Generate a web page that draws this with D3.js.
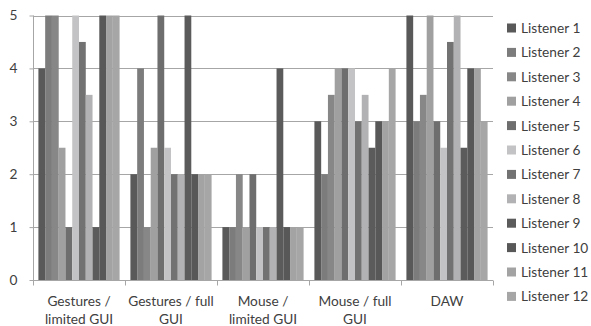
<!DOCTYPE html>
<html>
<head>
<meta charset="utf-8">
<script src="https://cdn.jsdelivr.net/npm/d3@7"></script>
<style>
  html, body { margin: 0; padding: 0; background: #fff; }
  svg { display: block; }
  text { font-family: Lato, "Open Sans", sans-serif; fill: #404040; }
</style>
</head>
<body>
<svg id="chart" width="591" height="326"></svg>
<script>
// Ratings per interface condition, one value per listener
const categories = [
  ["Gestures /", "limited GUI"],
  ["Gestures / full", "GUI"],
  ["Mouse /", "limited GUI"],
  ["Mouse / full", "GUI"],
  ["DAW"]
];
const listeners = ["Listener 1", "Listener 2", "Listener 3", "Listener 4", "Listener 5", "Listener 6",
                   "Listener 7", "Listener 8", "Listener 9", "Listener 10", "Listener 11", "Listener 12"];
const gesturesLimited = [4, 5, 5, 2.5, 1, 5, 4.5, 3.5, 1, 5, 5, 5];
const gesturesFull    = [2, 4, 1, 2.5, 5, 2.5, 2, 2, 5, 2, 2, 2];
const mouseLimited    = [1, 1, 2, 1, 2, 1, 1, 1, 4, 1, 1, 1];
const mouseFull       = [3, 2, 3.5, 4, 4, 4, 3, 3.5, 2.5, 3, 3, 4];
const daw             = [5, 3, 3.5, 5, 3, 2.5, 4.5, 5, 2.5, 4, 4, 3];
const yTicks = [0, 1, 2, 3, 4, 5];
const colors = ["#595959", "#7c7c7c", "#878787", "#a0a0a0", "#6e6e6e", "#c3c3c5",
                "#727272", "#b2b2b4", "#5b5b5b", "#585858", "#a3a3a3", "#a6a6a6"];

const series = [gesturesLimited, gesturesFull, mouseLimited, mouseFull, daw];
const catKeys = categories.map(c => c.join(" "));
const fontSize = 13.7;

const svg = d3.select("#chart");
const plotLeft = 33, plotRight = 493, plotTop = 15.5, plotBottom = 280;

const x0 = d3.scaleBand().domain(catKeys).range([plotLeft, plotRight]).padding(0);
const x1 = d3.scaleBand().domain(listeners).range([0, x0.bandwidth()])
  .paddingInner(0).paddingOuter(0.8);
const y = d3.scaleLinear().domain([0, 5]).range([plotBottom, plotTop]);

// horizontal gridlines
svg.append("g").selectAll("line").data(yTicks.slice(1)).join("line")
  .attr("x1", plotLeft).attr("x2", plotRight)
  .attr("y1", d => Math.round(y(d)) + 0.5).attr("y2", d => Math.round(y(d)) + 0.5)
  .attr("stroke", "#a6a6a6").attr("stroke-width", 1);

// bars
const groups = svg.append("g").selectAll("g").data(series).join("g")
  .attr("transform", (d, i) => `translate(${x0(catKeys[i])},0)`);
groups.selectAll("rect").data(d => d.map((v, j) => ({ v, j }))).join("rect")
  .attr("x", d => x1(listeners[d.j]))
  .attr("width", x1.bandwidth())
  .attr("y", d => y(d.v))
  .attr("height", d => y(0) - y(d.v))
  .attr("fill", d => colors[d.j]);

// y axis
const yAxis = svg.append("g").attr("transform", `translate(${plotLeft + 0.5},0)`)
  .call(d3.axisLeft(y).tickValues(yTicks).tickSize(4).tickPadding(12).tickFormat(d3.format("d")));
yAxis.select(".domain").attr("stroke", "#a6a6a6").attr("d", `M0,${plotTop}V${plotBottom}`);
yAxis.selectAll(".tick line").attr("stroke", "#a6a6a6");
yAxis.selectAll(".tick text").attr("font-size", fontSize).style("fill", "#404040")
  .attr("font-family", "Lato, 'Open Sans', sans-serif");

// x axis with ticks at category boundaries
const xa = svg.append("g").attr("transform", `translate(0,${plotBottom + 0.5})`);
xa.append("line").attr("x1", plotLeft).attr("x2", plotRight).attr("stroke", "#a6a6a6");
const bounds = catKeys.map(k => x0(k)).concat([plotRight]);
xa.selectAll("line.tk").data(bounds).join("line").attr("class", "tk")
  .attr("x1", d => Math.round(d) + 0.5).attr("x2", d => Math.round(d) + 0.5)
  .attr("y1", 0).attr("y2", 5).attr("stroke", "#a6a6a6");

// category labels
categories.forEach((lines, i) => {
  const cx = x0(catKeys[i]) + x0.bandwidth() / 2;
  const t = svg.append("text").attr("text-anchor", "middle").attr("font-size", fontSize);
  lines.forEach((ln, k) => {
    t.append("tspan").attr("x", cx).attr("y", 305.5 + k * 18).text(ln);
  });
});

// legend
const lg = svg.append("g").selectAll("g").data(listeners).join("g")
  .attr("transform", (d, i) => `translate(507,${28 + i * 24.4})`);
lg.append("rect").attr("x", 0).attr("y", -4.5).attr("width", 9).attr("height", 9)
  .attr("fill", (d, i) => colors[i]);
lg.append("text").attr("x", 14).attr("y", 5).attr("font-size", fontSize).text(d => d);
</script>
</body>
</html>
